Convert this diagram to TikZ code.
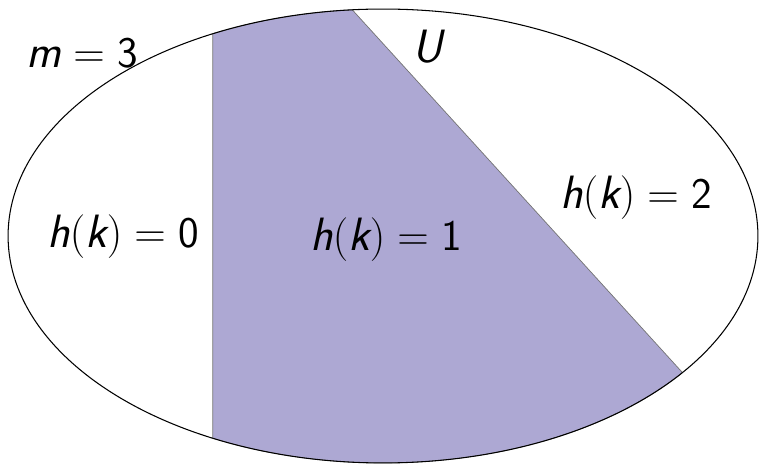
\documentclass[tikz,border=0pt]{standalone}
\usetikzlibrary{calc}

\definecolor{regionfill}{RGB}{173,168,211}
\newcommand{\vsf}[1]{\mbox{\sffamily\itshape #1}}

\begin{document}
\begin{tikzpicture}[
    x=0.02cm, y=0.02cm,
    % ── styles ─────────────────────────────────────────
    universe/.style = {draw=black, line width=0.6pt},
    bucket/.style = {fill=regionfill, draw=black!55, line width=0.4pt},
    lbl/.style = {font=\fontsize{26.6}{32}\selectfont, inner sep=0pt},
    ]
    \useasboundingbox (0,0) rectangle (766,466);

    % ============================================================
    % UNIVERSE U  (radii 375 x 227 px)
    % ============================================================
    \coordinate (centre) at (383,230);

    % region with h(k) = 1
    \filldraw[bucket]
    ($(centre)+(117:7.5cm and 4.54cm)$)
    arc[start angle=117, end angle=94.7, x radius=7.5cm, y radius=4.54cm]
    -- ($(centre)+(-37:7.5cm and 4.54cm)$)
    arc[start angle=-37, end angle=-117, x radius=7.5cm, y radius=4.54cm]
    -- cycle;

    \draw[universe] (centre) ellipse[x radius=7.5cm, y radius=4.54cm];

    % ============================================================
    % LABELS
    % ============================================================
    \node[lbl] (label-m) at (82,413) {$\vsf{m} = \mathsf{3}$};
    \node[lbl] (label-u) at (428,419) {$\vsf{U}$};
    \node[lbl] (label-h0) at (123,229) {$\vsf{h}(\vsf{k}) = \mathsf{0}$};
    \node[lbl] (label-h1) at (386,226) {$\vsf{h}(\vsf{k}) = \mathsf{1}$};
    \node[lbl] (label-h2) at (636,268) {$\vsf{h}(\vsf{k}) = \mathsf{2}$};

\end{tikzpicture}
\end{document}
